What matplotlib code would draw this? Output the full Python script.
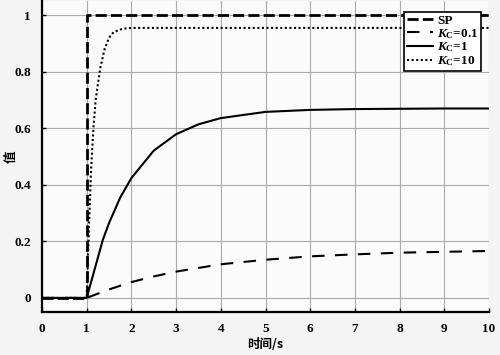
import matplotlib
matplotlib.use("Agg")
import matplotlib.pyplot as plt

plt.rcParams['mathtext.fontset'] = 'custom'
plt.rcParams['mathtext.rm'] = 'Liberation Serif:bold'
plt.rcParams['mathtext.it'] = 'Liberation Serif:bold:italic'
plt.rcParams['mathtext.bf'] = 'Liberation Serif:bold'

# Data
t_sp = [0, 1, 1, 10]
y_sp = [0, 0, 1, 1]

t_k01 = [0, 1, 1.5, 2, 2.5, 3, 4, 5, 6, 7, 8, 9, 10]
y_k01 = [0, 0, 0.030, 0.056, 0.076, 0.093, 0.119, 0.135, 0.147, 0.154, 0.160, 0.163, 0.166]

t_k1 = [0, 1, 1.36, 1.5, 1.75, 2, 2.5, 3, 3.5, 4, 5, 6, 7, 8, 9, 10]
y_k1 = [0, 0, 0.205, 0.265, 0.355, 0.424, 0.521, 0.579, 0.614, 0.636, 0.658, 0.665, 0.668, 0.669, 0.670, 0.670]

t_k10 = [0, 1, 1.05, 1.1, 1.15, 1.2, 1.3, 1.4, 1.5, 1.6, 1.8, 2.0, 10]
y_k10 = [0, 0, 0.25, 0.46, 0.60, 0.70, 0.81, 0.88, 0.92, 0.94, 0.952, 0.955, 0.955]

x_ticks = [0, 1, 2, 3, 4, 5, 6, 7, 8, 9, 10]
y_ticks = [0, 0.2, 0.4, 0.6, 0.8, 1]
y_ticklabels = ['0', '0.2', '0.4', '0.6', '0.8', '1']

fig = plt.figure(figsize=(5.0, 3.55), dpi=100, facecolor='#f4f4f4')
ax = fig.add_axes([0.084, 0.121, 0.894, 0.876])
ax.set_facecolor('#fbfbfb')

ax.plot(t_sp, y_sp, color='black', lw=2.0, dashes=(4, 1.5), label='SP')
ax.plot(t_k01, y_k01, color='black', lw=1.5, dashes=(6, 5), label=r'$K_\mathrm{C}$=0.1')
ax.plot(t_k1, y_k1, color='black', lw=1.5, label=r'$K_\mathrm{C}$=1')
ax.plot(t_k10, y_k10, color='black', lw=1.5, dashes=(1, 1.2), label=r'$K_\mathrm{C}$=10')

ax.set_xlim(0, 10)
ax.set_ylim(-0.05, 1.05)
ax.set_xticks(x_ticks)
ax.set_yticks(y_ticks)
ax.set_yticklabels(y_ticklabels)
ax.grid(True, color='#aaaaaa', lw=0.8)
ax.set_axisbelow(True)

for s in ['top', 'right']:
    ax.spines[s].set_visible(False)
for s in ['left', 'bottom']:
    ax.spines[s].set_linewidth(1.6)
ax.tick_params(direction='in', length=3, width=1, pad=8)
for lab in ax.get_xticklabels() + ax.get_yticklabels():
    lab.set_fontfamily('Liberation Serif')
    lab.set_fontweight('bold')
    lab.set_fontsize(9.5)

ax.set_xlabel('时间/s', fontfamily=['Noto Sans CJK SC', 'DejaVu Sans'], fontweight='bold', fontsize=9)
ax.xaxis.set_label_coords(0.5, -0.085)
ax.set_ylabel('值', fontfamily=['Noto Sans CJK SC', 'DejaVu Sans'], fontweight='bold', fontsize=9)
ax.yaxis.set_label_coords(-0.055, 0.5)

leg = ax.legend(loc='upper right', bbox_to_anchor=(0.982, 0.965), fancybox=False, framealpha=1,
                edgecolor='black', handlelength=2.0, handletextpad=0.3, borderpad=0.2,
                labelspacing=0.0, borderaxespad=0.0,
                prop={'family': 'Liberation Serif', 'weight': 'bold', 'size': 9.5})
leg.get_frame().set_linewidth(1.2)

fig.savefig('out.png', dpi=100, facecolor=fig.get_facecolor())
